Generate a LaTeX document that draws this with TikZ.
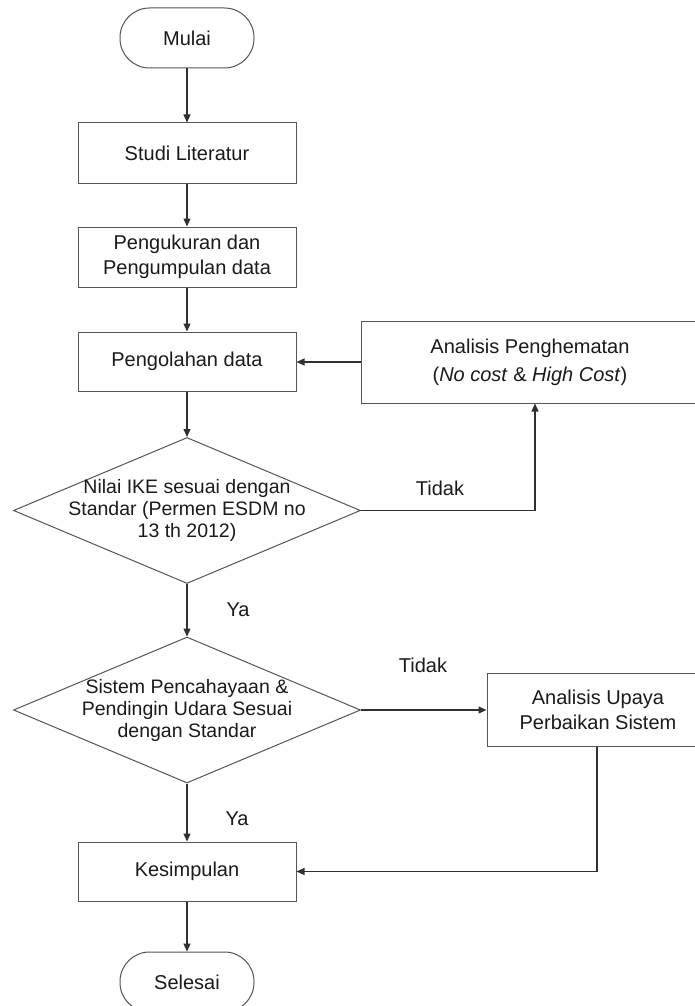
\documentclass[tikz,border=0pt]{standalone}
\usepackage{fontspec}
\setmainfont{Liberation Sans}
\usetikzlibrary{arrows.meta,shapes.geometric}
\definecolor{boxline}{HTML}{555555}
\definecolor{conline}{HTML}{303030}
\definecolor{txt}{HTML}{1A1A1A}
\begin{document}
\begin{tikzpicture}[x=1pt,y=-1pt,
  every node/.style={font=\fontsize{20}{25}\selectfont, text=txt},
  term/.style={draw=boxline, line width=1pt, rounded corners=29.5pt, minimum width=134pt, minimum height=60pt, inner sep=0pt},
  procbox/.style={draw=boxline, line width=1pt, minimum width=218pt, minimum height=60pt, inner sep=0pt, align=center},
  dia/.style={draw=boxline, line width=1pt, diamond, minimum width=347pt, minimum height=146pt, inner sep=0pt},
  dtext/.style={align=center, font=\fontsize{19.5}{22}\selectfont, inner sep=0pt},
  conn/.style={draw=conline, line width=1.1pt, -{Triangle[length=8pt,width=7pt]}},
  lbl/.style={inner sep=0pt}
]
\useasboundingbox (0,0) rectangle (694,1006);
\node[term] (mulai) at (187,38) {Mulai};
\node[procbox] (studi) at (187,153) {Studi Literatur};
\node[procbox] (peng) at (187,257) {Pengukuran dan\\Pengumpulan data};
\node[procbox, minimum height=59pt] (olah) at (187,361.5) {Pengolahan data};
\node[procbox, minimum width=338pt, minimum height=82pt, font=\fontsize{20}{28}\selectfont] (hemat) at (530,362) {Analisis Penghematan\\(\textit{No cost} \& \textit{High Cost})};
\node[dia, label={[dtext]center:{Nilai IKE sesuai dengan\\Standar (Permen ESDM no\\13 th 2012)}}] (d1) at (187,510.5) {};
\node[dia, label={[dtext]center:{Sistem Pencahayaan \&\\Pendingin Udara Sesuai\\dengan Standar}}] (d2) at (187,710) {};
\node[procbox, minimum width=222pt, minimum height=73pt] (upaya) at (598,709.5) {Analisis Upaya\\Perbaikan Sistem};
\node[procbox, minimum height=59pt] (kes) at (187,871.5) {Kesimpulan};
\node[term] (selesai) at (187,982) {Selesai};

\draw[conn] (mulai) -- (studi);
\draw[conn] (studi) -- (peng);
\draw[conn] (peng) -- (olah);
\draw[conn] (olah) -- (d1);
\draw[conn] (d1.east) -| ([xshift=5pt]hemat.south);
\draw[conn] (hemat.west) -- (hemat.west -| olah.east);
\draw[conn] (d1) -- (d2);
\draw[conn] (d2.east) -- (d2.east -| upaya.west);
\draw[conn] (d2) -- (kes);
\draw[conn] ([xshift=-1pt]upaya.south) |- (kes.east);
\draw[conn] (kes) -- (selesai);

\node[lbl] (t1) at (440,488) {Tidak};
\node[lbl] (t2) at (423,665) {Tidak};
\node[lbl] (y1) at (238,610) {Ya};
\node[lbl] (y2) at (237,819) {Ya};
\end{tikzpicture}
\end{document}
